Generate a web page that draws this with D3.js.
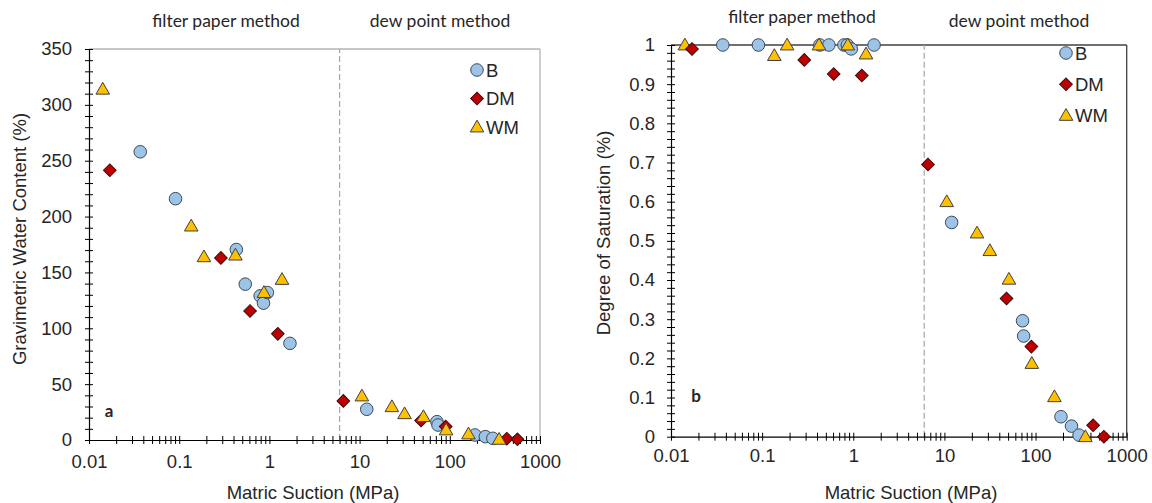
<!DOCTYPE html>
<html>
<head>
<meta charset="utf-8">
<script src="https://cdn.jsdelivr.net/npm/d3@7"></script>
<style>
  html, body { margin: 0; padding: 0; background: #fff; }
  svg { display: block; }
  text { font-family: "Liberation Sans", Arial, sans-serif; fill: #262626; }
  .note { font-family: Lato, "Open Sans", sans-serif; }
</style>
</head>
<body>
<svg id="chart" width="1152" height="503"></svg>
<script>
// ---------------- data ----------------
const seriesNames = ["B", "DM", "WM"];

// B
const suctionB = [0.037, 0.091, 0.43, 0.54, 0.79, 0.86, 0.95, 1.69, 12.0, 72, 74, 190, 248, 300];
const waterB   = [258, 216, 170.5, 139.5, 129, 122.5, 132, 86.5, 27.5, 16.4, 13.4, 4.5, 3, 1.5];
const satB     = [1, 1, 1, 1, 1, 1, 0.99, 1, 0.547, 0.296, 0.257, 0.051, 0.027, 0.004];

// DM
const suctionDM = [0.017, 0.29, 0.61, 1.24, 6.6, 48, 90, 428, 562];
const waterDM   = [241.5, 163, 115.5, 95, 35, 17.5, 12, 1.2, 0.6];
const satDM     = [0.99, 0.962, 0.926, 0.922, 0.695, 0.353, 0.23, 0.029, 0.0];

// WM
const suctionWM = [0.0142, 0.136, 0.188, 0.42, 0.87, 1.38, 10.6, 22.8, 31.5, 51, 91, 161, 352];
const waterWM   = [314, 191.5, 164, 165.5, 132, 143.7, 39.4, 29.8, 23.5, 20.9, 9, 5.4, 0.6];
const satWM     = [1.0, 0.973, 1.0, 1.0, 1.0, 0.977, 0.6, 0.52, 0.475, 0.402, 0.187, 0.102, 0.0];

const xDomain = [0.01, 1000];
const xTickLabels = ["0.01", "0.1", "1", "10", "100", "1000"];
const methodBoundary = 6;
const methodLabels = ["filter paper method", "dew point method"];

const waterTicks = [0, 50, 100, 150, 200, 250, 300, 350];
const waterTickLabels = ["0", "50", "100", "150", "200", "250", "300", "350"];
const satTicks = [0, 0.1, 0.2, 0.3, 0.4, 0.5, 0.6, 0.7, 0.8, 0.9, 1];
const satTickLabels = ["0", "0.1", "0.2", "0.3", "0.4", "0.5", "0.6", "0.7", "0.8", "0.9", "1"];

// ---------------- styles ----------------
const style = {
  B:  { fill: "#9dc3e6", stroke: "#3b4a5c" },
  DM: { fill: "#c00000", stroke: "#3d0a0a" },
  WM: { fill: "#ffc000", stroke: "#404040" }
};

const svg = d3.select("#chart");

function symbolPath(name) {
  if (name === "B") return d3.symbol().type(d3.symbolCircle).size(124)();
  if (name === "DM") return d3.symbol().type(d3.symbolSquare).size(80)();
  return d3.symbol().type(d3.symbolTriangle).size(80)();
}
function drawMarker(g, name, x, y) {
  const p = g.append("path")
    .attr("d", symbolPath(name))
    .attr("fill", style[name].fill)
    .attr("stroke", style[name].stroke)
    .attr("stroke-width", 1);
  if (name === "DM") p.attr("transform", `translate(${x},${y}) rotate(45)`);
  else if (name === "WM") p.attr("transform", `translate(${x},${y + 1})`);
  else p.attr("transform", `translate(${x},${y})`);
}

function panel(cfg) {
  const x = d3.scaleLog().domain(xDomain).range([cfg.left, cfg.right]);
  const y = d3.scaleLinear().domain(cfg.yDomain).range([cfg.bottom, cfg.top]);
  const g = svg.append("g");

  // frame (top + right)
  g.append("line").attr("x1", x(xDomain[0])).attr("x2", x(xDomain[1]))
    .attr("y1", y(cfg.yDomain[1])).attr("y2", y(cfg.yDomain[1]))
    .attr("stroke", cfg.frameColor).attr("stroke-width", 1.3);
  g.append("line").attr("x1", x(xDomain[1])).attr("x2", x(xDomain[1]))
    .attr("y1", y(cfg.yDomain[0])).attr("y2", y(cfg.yDomain[1]))
    .attr("stroke", cfg.frameColor).attr("stroke-width", 1.3);

  // dashed boundary
  g.append("line").attr("x1", x(methodBoundary)).attr("x2", x(methodBoundary))
    .attr("y1", y(cfg.yDomain[0])).attr("y2", y(cfg.yDomain[1]))
    .attr("stroke", "#a6a6a6").attr("stroke-width", 1.2)
    .attr("stroke-dasharray", "6,3");

  // x axis
  const majors = xTickLabels.map(Number);
  const xAxis = d3.axisBottom(x)
    .tickValues(x.ticks())
    .tickSize(0).tickSizeOuter(0)
    .tickFormat(d => {
      const i = majors.findIndex(m => Math.abs(m - d) / m < 1e-6);
      return i >= 0 ? xTickLabels[i] : "";
    });
  const gx = g.append("g").attr("transform", `translate(0,${cfg.bottom})`).call(xAxis);
  gx.select(".domain").attr("stroke", "#000").attr("stroke-width", 1.2);
  gx.selectAll(".tick line").attr("y1", -4).attr("y2", 4).attr("stroke", "#000");
  gx.selectAll(".tick text").attr("y", cfg.xLabelY).attr("dy", "0.71em")
    .style("font-size", "18.5px").attr("fill", "#262626")
    .style("font-family", '"Liberation Sans", Arial, sans-serif');

  // y axis
  const yMinor = d3.range(cfg.yDomain[0], cfg.yDomain[1] + cfg.minorStep / 2, cfg.minorStep);
  const yAxis = d3.axisLeft(y)
    .tickValues(yMinor)
    .tickSize(0).tickSizeOuter(0)
    .tickFormat(d => {
      const i = cfg.yTicks.findIndex(m => Math.abs(m - d) < cfg.minorStep / 10);
      return i >= 0 ? cfg.yTickLabels[i] : "";
    });
  const gy = g.append("g").attr("transform", `translate(${cfg.left},0)`).call(yAxis);
  gy.select(".domain").attr("stroke", "#000").attr("stroke-width", 1.2);
  gy.selectAll(".tick line").attr("x1", -4).attr("x2", 4).attr("stroke", "#000");
  gy.selectAll(".tick text").attr("x", cfg.yLabelX)
    .style("font-size", "18.5px").attr("fill", "#262626")
    .style("font-family", '"Liberation Sans", Arial, sans-serif');

  // axis titles
  g.append("text").attr("x", cfg.xTitleX).attr("y", 499)
    .attr("text-anchor", "middle").style("font-size", "18.5px").attr("fill", "#404040")
    .text("Matric Suction (MPa)");
  g.append("text")
    .attr("transform", `translate(${cfg.yTitleX},${cfg.yTitleY}) rotate(-90)`)
    .attr("text-anchor", "middle").attr("dy", "0.35em")
    .style("font-size", "18.5px").attr("fill", "#404040")
    .text(cfg.yTitle);

  // method labels
  g.append("text").attr("class", "note").attr("x", cfg.note1[0]).attr("y", cfg.note1[1])
    .attr("text-anchor", "middle").attr("dy", "0.35em").style("font-size", "17.5px")
    .text(methodLabels[0]);
  g.append("text").attr("class", "note").attr("x", cfg.note2[0]).attr("y", cfg.note2[1])
    .attr("text-anchor", "middle").attr("dy", "0.35em").style("font-size", "17.5px")
    .text(methodLabels[1]);

  // panel letter
  g.append("text").attr("class", "note").attr("x", cfg.letterPos[0]).attr("y", cfg.letterPos[1])
    .attr("text-anchor", "middle").attr("dy", "0.35em")
    .style("font-size", "17px").style("font-weight", "bold").attr("fill", "#000")
    .text(cfg.letter);

  // data
  const marks = g.append("g");
  cfg.series.forEach(s => {
    s.xs.forEach((v, i) => drawMarker(marks, s.name, x(v), y(s.ys[i])));
  });

  // legend
  const lg = g.append("g");
  seriesNames.forEach((n, i) => {
    const ly = cfg.legend[1] + i * cfg.legendStep;
    drawMarker(lg, n, cfg.legend[0], ly);
    lg.append("text").attr("x", cfg.legend[0] + 9).attr("y", ly).attr("dy", "0.36em")
      .style("font-size", "18.5px").attr("fill", "#262626").text(n);
  });
}

panel({
  left: 89, right: 540, top: 49, bottom: 440,
  yDomain: [0, 350], minorStep: 10,
  yTicks: waterTicks, yTickLabels: waterTickLabels,
  frameColor: "#b4b4b4",
  xLabelY: 14.5, yLabelX: -17,
  xTitleX: 313, yTitle: "Gravimetric Water Content (%)", yTitleX: 20, yTitleY: 239,
  note1: [226, 21], note2: [440, 21],
  letter: "a", letterPos: [109, 411],
  legend: [477, 70], legendStep: 28.5,
  series: [
    { name: "B", xs: suctionB, ys: waterB },
    { name: "DM", xs: suctionDM, ys: waterDM },
    { name: "WM", xs: suctionWM, ys: waterWM }
  ]
});

panel({
  left: 671, right: 1126.7, top: 45, bottom: 436.7,
  yDomain: [0, 1], minorStep: 0.02,
  yTicks: satTicks, yTickLabels: satTickLabels,
  frameColor: "#404040",
  xLabelY: 12.6, yLabelX: -16,
  xTitleX: 911, yTitle: "Degree of Saturation (%)", yTitleX: 604, yTitleY: 233,
  note1: [802, 17], note2: [1019, 21],
  letter: "b", letterPos: [696, 396],
  legend: [1066, 53], legendStep: 31.2,
  series: [
    { name: "B", xs: suctionB, ys: satB },
    { name: "WM", xs: suctionWM, ys: satWM },
    { name: "DM", xs: suctionDM, ys: satDM }
  ]
});
</script>
</body>
</html>
